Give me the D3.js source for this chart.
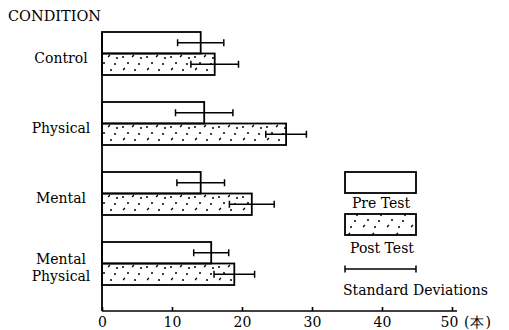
<!DOCTYPE html>
<html lang="en">
<head>
  <meta charset="UTF-8">
  <title>Condition bar chart</title>
  <style>
    body {
      margin: 0;
      background: #fff;
    }

    svg text {
      font-family: "DejaVu Serif", serif;
      font-size: 14px;
      fill: #000;
    }

    .axis path,
    .axis line {
      fill: none;
      stroke: #000;
      stroke-width: 1.6;
    }
  </style>
</head>
<body>
<div class="chart"></div>
<script src="https://cdn.jsdelivr.net/npm/d3@7"></script>
<script>
  // data
  let conditions = ['Control', 'Physical', 'Mental', 'Mental\nPhysical']
  let preMean = [14.1, 14.6, 14.1, 15.6]
  let preSD = [3.3, 4.1, 3.4, 2.5]
  let postMean = [16.1, 26.3, 21.4, 18.9]
  let postSD = [3.4, 2.9, 3.2, 2.9]
  let xTicks = [0, 10, 20, 30, 40, 50]

  let width = 509
  let height = 330
  let axisX = 102
  let axisY = 311

  let svg = d3.select('.chart').append('svg').attr('width', width).attr('height', height)

  // dotted fill for the post test bars
  let pat = svg.append('defs').append('pattern')
    .attr('id', 'dots')
    .attr('patternUnits', 'userSpaceOnUse')
    .attr('width', 24)
    .attr('height', 21)
  let dots = [[3, 4], [13, 3], [8, 10], [19, 11], [4, 16], [15, 17], [21, 5]]
  dots.forEach((d, i) => {
    if (i % 3 !== 1) {
      pat.append('circle').attr('cx', d[0]).attr('cy', d[1]).attr('r', 1)
    } else {
      pat.append('line').attr('x1', d[0] - 0.8).attr('y1', d[1] + 1.2)
        .attr('x2', d[0] + 0.8).attr('y2', d[1] - 1.2)
        .attr('stroke', '#000').attr('stroke-width', 1.4)
    }
  })

  let xScale = d3.scaleLinear().domain([0, 50]).range([axisX, 452])
  let yScale = d3.scaleBand().domain(conditions).range([32, 285]).paddingInner(27 / 70)
  let subScale = d3.scaleBand().domain(['pre', 'post']).range([0, yScale.bandwidth()])

  let rows = conditions.map((c, i) => ({
    name: c,
    bars: [
      {key: 'pre', mean: preMean[i], sd: preSD[i]},
      {key: 'post', mean: postMean[i], sd: postSD[i]}
    ]
  }))

  // bars
  let groups = svg.selectAll('.group').data(rows).enter().append('g')
    .attr('class', 'group')
    .attr('transform', (d) => 'translate(0,' + yScale(d.name) + ')')

  groups.selectAll('rect').data((d) => d.bars).enter().append('rect')
    .attr('x', xScale(0))
    .attr('y', (d) => subScale(d.key))
    .attr('width', (d) => xScale(d.mean) - xScale(0))
    .attr('height', subScale.bandwidth())
    .attr('fill', (d) => d.key === 'pre' ? '#fff' : 'url(#dots)')
    .attr('stroke', '#000')
    .attr('stroke-width', 1.8)

  // error bars
  let err = groups.selectAll('.err').data((d) => d.bars).enter().append('g')
    .attr('class', 'err')
    .attr('stroke', '#000')
    .attr('stroke-width', 1.5)
  err.append('line')
    .attr('x1', (d) => xScale(d.mean - d.sd))
    .attr('x2', (d) => xScale(d.mean + d.sd))
    .attr('y1', (d) => subScale(d.key) + subScale.bandwidth() / 2)
    .attr('y2', (d) => subScale(d.key) + subScale.bandwidth() / 2)
  err.selectAll('.cap').data((d) => [
    {x: d.mean - d.sd, y: subScale(d.key) + subScale.bandwidth() / 2},
    {x: d.mean + d.sd, y: subScale(d.key) + subScale.bandwidth() / 2}
  ]).enter().append('line')
    .attr('class', 'cap')
    .attr('x1', (d) => xScale(d.x))
    .attr('x2', (d) => xScale(d.x))
    .attr('y1', (d) => d.y - 3.5)
    .attr('y2', (d) => d.y + 3.5)

  // axes
  let xAxis = d3.axisBottom(xScale)
    .tickValues(xTicks)
    .tickSizeInner(-4)
    .tickSizeOuter(0)
    .tickPadding(6)
  let gX = svg.append('g').attr('class', 'axis')
    .attr('transform', 'translate(0,' + axisY + ')')
    .call(xAxis)
  gX.select('.domain').attr('d', 'M' + xScale(0) + ',0H' + (xScale(50) + 5))
  gX.selectAll('text').style('font-family', '"DejaVu Serif", serif').style('font-size', '14px')
  gX.selectAll('.tick text').filter((d) => d === 50).attr('dx', -3)

  svg.append('line')
    .attr('x1', axisX).attr('x2', axisX)
    .attr('y1', 32).attr('y2', axisY)
    .attr('stroke', '#000').attr('stroke-width', 1.8)

  svg.append('text').attr('x', 464).attr('y', 327)
    .style('letter-spacing', '1px')
    .text('(本)')

  svg.append('text').attr('x', 8).attr('y', 21)
    .style('font-size', '14.5px')
    .text('CONDITION')

  // category labels
  svg.selectAll('.cat').data(conditions).enter().append('text')
    .attr('class', 'cat')
    .attr('text-anchor', 'middle')
    .attr('y', (d) => {
      let n = d.split('\n').length
      return yScale(d) + yScale.bandwidth() / 2 + 9 - (n - 1) * 8.5
    })
    .each(function (d) {
      d.split('\n').forEach((s, i) => {
        d3.select(this).append('tspan').attr('x', 61).attr('dy', i === 0 ? 0 : 17).text(s)
      })
    })

  // legend
  let lg = svg.append('g').attr('class', 'legend')
  lg.append('rect').attr('x', 345).attr('y', 172).attr('width', 71).attr('height', 21)
    .attr('fill', '#fff').attr('stroke', '#000').attr('stroke-width', 1.8)
  lg.append('text').attr('x', 381).attr('y', 208).attr('text-anchor', 'middle').text('Pre Test')
  lg.append('rect').attr('x', 345).attr('y', 214).attr('width', 71).attr('height', 21)
    .attr('fill', 'url(#dots)').attr('stroke', '#000').attr('stroke-width', 1.8)
  lg.append('text').attr('x', 382).attr('y', 253).attr('text-anchor', 'middle').text('Post Test')
  lg.append('line').attr('x1', 345).attr('x2', 416).attr('y1', 269).attr('y2', 269)
    .attr('stroke', '#000').attr('stroke-width', 1.5)
  lg.selectAll('.lcap').data([345, 416]).enter().append('line')
    .attr('x1', (d) => d).attr('x2', (d) => d).attr('y1', 265.5).attr('y2', 272.5)
    .attr('stroke', '#000').attr('stroke-width', 1.5)
  lg.append('text').attr('x', 343).attr('y', 295).text('Standard Deviations')
</script>
</body>
</html>
